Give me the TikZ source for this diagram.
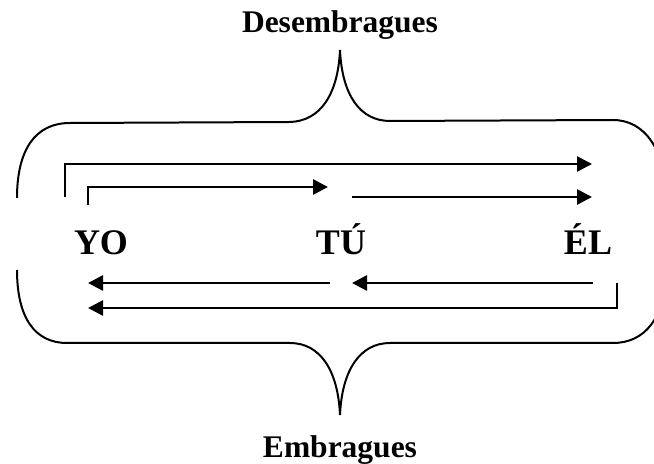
\documentclass[tikz,border=0pt]{standalone}
\usepackage{fontspec}
\setmainfont{Liberation Serif}
\usepackage{tikz}
\usetikzlibrary{arrows.meta,positioning,calc}
\tikzset{
  person/.style={font=\fontsize{18}{20}\selectfont\bfseries, anchor=base, inner sep=0pt},
  title/.style={font=\fontsize{15.75}{18}\selectfont\bfseries, anchor=base, inner sep=0pt},
  arrow/.style={-{Triangle[length=7.5pt, width=7.5pt]}, line width=1.35pt, black},
  bracepath/.style={line width=1pt, black},
}

\begin{document}
\begin{tikzpicture}[x=0.5pt, y=-0.5pt]
\useasboundingbox (0,0) rectangle (654,464);

% labels
\node[title] (desem) at (340,33) {Desembragues};
\node[title] (embr) at (340,458) {Embragues};
\node[person] (yo) at (101,255) {YO};
\node[person] (tu) at (341,255) {TÚ};
\node[person] (el) at (588,255) {ÉL};

% braces
\draw[bracepath] (17,198) .. controls (17,150) and (35,123) .. (70,123) -- (290,122)
  .. controls (320,121) and (338,95) .. (340,50)
  .. controls (342,95) and (360,121) .. (390,121) -- (613,120)
  .. controls (645,120) and (665,150) .. (667,198);
\draw[bracepath] (17,270) .. controls (17,318) and (35,343) .. (67,343) -- (290,343)
  .. controls (320,343) and (338,370) .. (340,415)
  .. controls (342,370) and (360,343) .. (390,343) -- (613,343)
  .. controls (645,343) and (665,318) .. (667,270);

% corners of the arrows
\coordinate (yo top) at (65,197);
\coordinate (yo mid) at (88,205);
\coordinate (tu in) at (328,187);
\coordinate (tu out) at (352,197);
\coordinate (el top) at (592,164);
\coordinate (el in) at (592,197);
\coordinate (el out) at (593,283);
\coordinate (el low) at (617,283);
\coordinate (tu low in) at (352,283);
\coordinate (tu low out) at (330,283);
\coordinate (yo in) at (88,283);
\coordinate (yo low) at (88,308);

% desembragues
\draw[arrow] (yo top) |- (el top);
\draw[arrow] (yo mid) |- (tu in);
\draw[arrow] (tu out) -- (el in);

% embragues
\draw[arrow] (tu low out) -- (yo in);
\draw[arrow] (el out) -- (tu low in);
\draw[arrow] (el low) |- (yo low);
\end{tikzpicture}
\end{document}
